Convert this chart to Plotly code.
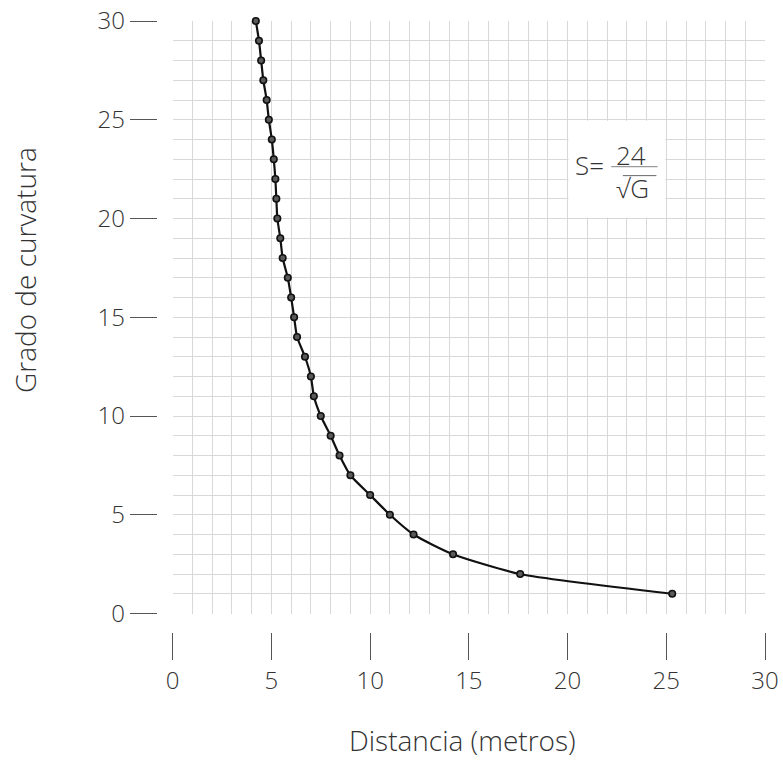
import plotly.graph_objects as go

# Data: degree of curvature (G) vs distance (S, metres)
grado = list(range(1, 31))
distancia = [25.3, 17.6, 14.2, 12.2, 11.0, 10.0, 9.0, 8.45, 8.0, 7.5,
             7.15, 7.0, 6.7, 6.3, 6.15, 6.0, 5.83, 5.57, 5.45, 5.3,
             5.25, 5.2, 5.12, 5.02, 4.87, 4.76, 4.59, 4.48, 4.37, 4.21]

x_ticks = [0, 5, 10, 15, 20, 25, 30]
y_ticks = [0, 5, 10, 15, 20, 25, 30]

FONT = "Open Sans"
TXT = "#333333"
GRID = "#d8d8d8"

W, H = 783, 764
ML, MR, MT, MB = 0, 18, 21, 0
PW, PH = W - ML - MR, H - MT - MB


def px(xr):
    return (xr - ML) / PW


def py(yr):
    return (H - MB - yr) / PH


fig = go.Figure()
fig.add_trace(go.Scatter(
    x=distancia, y=grado, mode="lines+markers",
    line=dict(color="#111111", width=2.2, shape="spline", smoothing=0.6),
    marker=dict(size=6.5, color="#5a5a5a", line=dict(color="#111111", width=1.6)),
    cliponaxis=False, showlegend=False, hoverinfo="x+y",
))

tickfont = dict(family=FONT, size=24, color=TXT, weight=300)

common = dict(
    range=[0, 30], anchor="free", tickmode="array",
    ticks="outside", ticklen=27, tickwidth=1.2, tickcolor="#555555",
    tickfont=tickfont, showline=False, zeroline=False,
    showgrid=True, gridcolor=GRID, gridwidth=1,
    minor=dict(dtick=1, showgrid=True, gridcolor=GRID, gridwidth=1, ticks=""),
    automargin=False, fixedrange=True, ticklabeloverflow="allow",
)

fig.update_layout(
    width=W, height=H,
    margin=dict(l=ML, r=MR, t=MT, b=MB, autoexpand=False),
    paper_bgcolor="white", plot_bgcolor="white",
    xaxis=dict(domain=[px(172.7), 1], position=py(631.7),
               tickvals=x_ticks, ticktext=[str(v) for v in x_ticks], **common),
    yaxis=dict(domain=[py(613.5), 1], position=px(156.7),
               tickvals=y_ticks, ticktext=[str(v) for v in y_ticks], **common),
)

titlefont = dict(family=FONT, size=28, color=TXT, weight=300)
fig.add_annotation(text="Distancia (metros)", xref="paper", yref="paper",
                   x=px(462), y=py(740), showarrow=False, font=titlefont,
                   xanchor="center", yanchor="middle")
fig.add_annotation(text="Grado de curvatura", xref="paper", yref="paper",
                   x=px(25), y=py(270), showarrow=False, font=titlefont,
                   textangle=-90, xanchor="center", yanchor="middle")

# formula box (white panel over the grid, below the text)
fig.add_shape(type="rect", x0=20.05, x1=24.95, y0=20.05, y1=24.95, xref="x", yref="y",
              fillcolor="white", line=dict(width=0), layer="between")
fig.add_annotation(text="S=", x=21.13, y=22.71, xref="x", yref="y", showarrow=False,
                   font=dict(family=FONT, size=26, color=TXT, weight=300))
fig.add_annotation(text="24", x=23.23, y=23.2, xref="x", yref="y", showarrow=False,
                   font=dict(family=FONT, size=26, color=TXT, weight=300))
fig.add_annotation(text="√G", x=23.3, y=21.55, xref="x", yref="y", showarrow=False,
                   font=dict(family=FONT, size=26, color=TXT, weight=300))
fig.add_shape(type="line", x0=22.21, x1=24.56, y0=22.63, y1=22.63, xref="x", yref="y",
              line=dict(color="#9a9a9a", width=1.2), layer="above")
fig.add_shape(type="line", x0=22.8, x1=24.5, y0=22.17, y1=22.17, xref="x", yref="y",
              line=dict(color="#666666", width=1), layer="above")

fig.write_html(
    "out.html",
    config={"displayModeBar": False},
    post_script="document.body.style.margin='0';document.body.style.overflow='hidden';",
)
